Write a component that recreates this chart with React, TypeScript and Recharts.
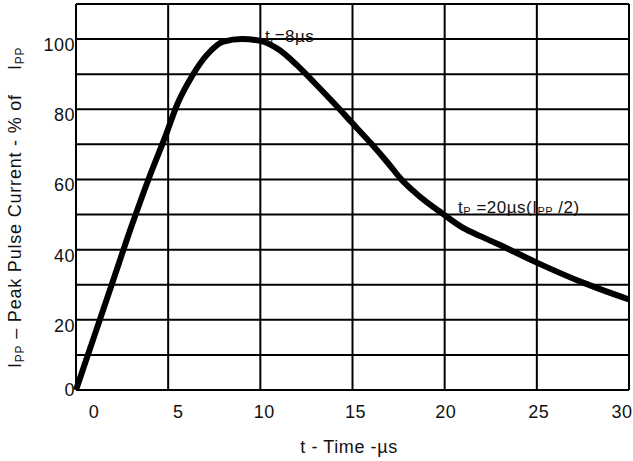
import React from 'react';
import { CartesianGrid, Line, LineChart, ReferenceDot, XAxis, YAxis } from 'recharts';

// curve: time in µs, current in % of Ipp
const timeUs = [0, 1, 2, 3, 4, 4.9, 5.5, 6.3, 7.1, 8, 9, 10, 11, 12, 13, 14, 15, 16, 17, 17.6, 18.5, 19.9, 21, 22, 23, 25, 27.5, 30];
const currentPct = [0, 15.5, 31, 46.5, 61, 73, 81.5, 89.5, 95.5, 99.3, 100, 99.5, 97, 92.5, 87.2, 81.7, 76, 70.3, 64.2, 60.3, 55.8, 50.2, 46.2, 43.7, 41.3, 36.3, 30.6, 25.8];

const xTicks = [0, 5, 10, 15, 20, 25, 30];
const yTicks = [0, 20, 40, 60, 80, 100];
const yGrid = [0, 10, 20, 30, 40, 50, 60, 70, 80, 90, 100, 110];

const data = timeUs.map((t, i) => ({ t, pct: currentPct[i] }));

const FONT = '"Liberation Sans", Arial, sans-serif';
const INK = '#111';

// the source labels sit a little off their grid lines
const xLabelShift: Record<number, number> = { 0: 18, 5: 10, 10: 4, 15: 3, 20: 1, 25: 2, 30: -7 };

const XTick = (props: any) => {
  const { x, y, payload } = props;
  return (
    <text x={x + (xLabelShift[payload.value] ?? 0)} y={y + 28} textAnchor="middle" fontSize={18} fill={INK} fontFamily={FONT} letterSpacing={0.5}>
      {payload.value}
    </text>
  );
};

const YTick = (props: any) => {
  const { x, y, payload } = props;
  const dy = payload.value === 0 ? 0 : 6;
  return (
    <text x={x - 1} y={y + dy} textAnchor="end" dominantBaseline="central" fontSize={18} fill={INK} fontFamily={FONT} letterSpacing={0.5}>
      {payload.value}
    </text>
  );
};

const Sub = ({ children }: { children: React.ReactNode }) => (
  <tspan fontSize={12} dy={3}>{children}</tspan>
);

export default function App() {
  return (
    <div style={{ position: 'absolute', left: 0, top: 0, background: '#fff' }}>
      <LineChart width={633} height={461} data={data} margin={{ top: 4, right: 4, left: 0, bottom: 0 }}>
        <CartesianGrid stroke="#000" strokeWidth={2} horizontalValues={yGrid} verticalValues={xTicks} />
        <XAxis
          dataKey="t"
          type="number"
          domain={[0, 30]}
          ticks={xTicks}
          height={71}
          axisLine={false}
          tickLine={false}
          tickSize={0}
          tickMargin={0}
          tick={<XTick />}
          interval={0}
        />
        <YAxis
          type="number"
          domain={[0, 110]}
          ticks={yTicks}
          width={76}
          axisLine={false}
          tickLine={false}
          tickSize={0}
          tickMargin={0}
          tick={<YTick />}
          interval={0}
        />
        <Line type="monotone" dataKey="pct" stroke="#000" strokeWidth={6} dot={false} isAnimationActive={false} />
        <ReferenceDot
          x={10.25}
          y={99.1}
          r={1}
          fill="none"
          stroke="none"
          label={{
            content: (p: any) => (
              <text x={p.viewBox.x + 1} y={p.viewBox.y + 1} fontSize={17} fill={INK} fontFamily={FONT} letterSpacing={0.5} style={{ whiteSpace: 'pre' }}>
                <tspan>t</tspan>
                <tspan fontSize={12} dy={3}>r</tspan>
                <tspan dy={-3}>=8µs</tspan>
              </text>
            ),
          }}
        />
        <ReferenceDot
          x={20.73}
          y={50.4}
          r={1}
          fill="none"
          stroke="none"
          label={{
            content: (p: any) => (
              <text x={p.viewBox.x + 1} y={p.viewBox.y + 1} fontSize={17} fill={INK} fontFamily={FONT} letterSpacing={0.5} style={{ whiteSpace: 'pre' }}>
                t<tspan fontSize={11} dy={2}>P</tspan>
                <tspan dy={-2}> =20µs(I</tspan>
                <tspan fontSize={11} dy={2}>PP</tspan>
                <tspan dy={-2}> /2)</tspan>
              </text>
            ),
          }}
        />
        <text x={349} y={453} textAnchor="middle" fontSize={18} fill={INK} fontFamily={FONT} letterSpacing={0.6}>
          t - Time -µs
        </text>
        <text
          transform="translate(21, 368) rotate(-90)"
          fontSize={18}
          fill={INK}
          fontFamily={FONT}
          letterSpacing={0.8}
          style={{ whiteSpace: 'pre' }}
        >
          I<Sub>PP</Sub>
          <tspan dy={-3}> – Peak Pulse Current - % of</tspan>
          <tspan dx={24}>I</tspan>
          <Sub>PP</Sub>
        </text>
      </LineChart>
    </div>
  );
}
